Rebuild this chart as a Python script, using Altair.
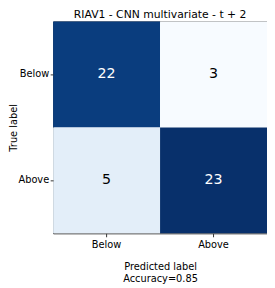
import altair as alt
import pandas as pd

true_labels = ["Below", "Below", "Above", "Above"]
pred_labels = ["Below", "Above", "Below", "Above"]
counts = [22, 3, 5, 23]
order = ["Below", "Above"]

df = pd.DataFrame({"true": true_labels, "pred": pred_labels, "count": counts})
thresh = max(counts) / 2

blues = ["#f7fbff", "#deebf7", "#c6dbef", "#9ecae1", "#6baed6",
         "#4292c6", "#2171b5", "#08519c", "#08306b"]
lo, hi = min(counts), max(counts)
dom = [lo + (hi - lo) * i / 8 for i in range(9)]

FONT = "DejaVu Sans"

base = alt.Chart(df).encode(
    x=alt.X("pred:N", sort=order,
            scale=alt.Scale(paddingInner=0, paddingOuter=0),
            axis=alt.Axis(title=["Predicted label", "Accuracy=0.85"],
                          labelAngle=0, labelFontSize=10, labelFont=FONT,
                          labelColor="black", titleFont=FONT, titleFontSize=10,
                          titleFontWeight="normal", titleColor="black",
                          titlePadding=12, tickSize=3.5, tickColor="#333333",
                          domain=False, labelPadding=3, titleLineHeight=13)),
    y=alt.Y("true:N", sort=order,
            scale=alt.Scale(paddingInner=0, paddingOuter=0),
            axis=alt.Axis(title="True label", labelFontSize=10, labelFont=FONT,
                          labelColor="black", titleFont=FONT, titleFontSize=10,
                          titleFontWeight="normal", titleColor="black",
                          titleX=-35, titleBaseline="bottom",
                          tickSize=3, tickColor="#333333",
                          domain=False, labelPadding=1.5)),
)

rect = base.mark_rect().encode(
    color=alt.Color("count:Q", scale=alt.Scale(domain=dom, range=blues), legend=None)
)
text = base.mark_text(fontSize=14.5, font=FONT).encode(
    text="count:Q",
    color=alt.condition(f"datum.count > {thresh}", alt.value("white"), alt.value("black")),
)

chart = (rect + text).properties(
    width=218, height=216,
    title=alt.TitleParams("RIAV1 - CNN multivariate - t + 2", font=FONT,
                          fontSize=11, fontWeight="normal", color="black",
                          offset=2),
    autosize=alt.AutoSizeParams(type="none"),
    padding={"left": 46, "top": 11, "right": 0, "bottom": 52},
).configure_view(stroke="#333333", strokeWidth=1)

chart.save("out.html", embed_options={"renderer": "svg", "actions": False})
